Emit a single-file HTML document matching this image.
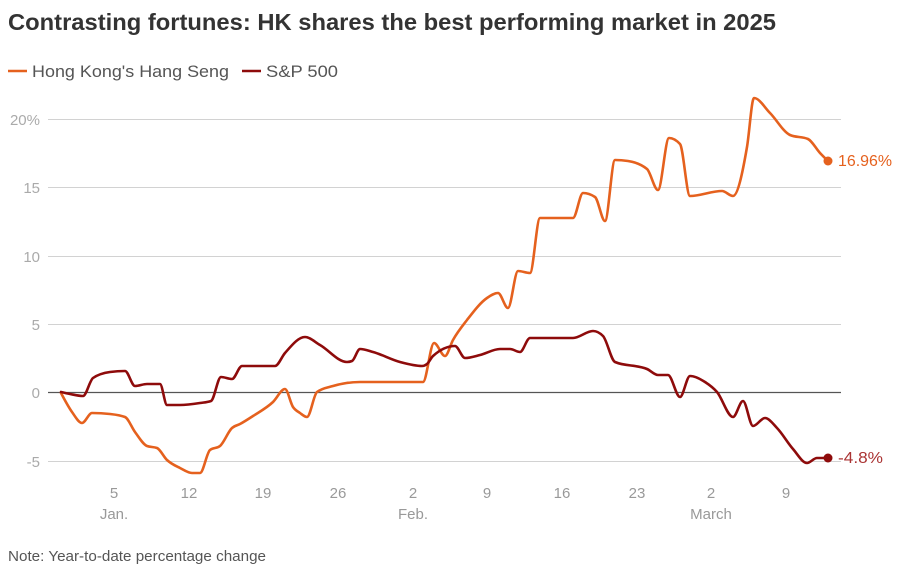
<!DOCTYPE html>
<html><head><meta charset="utf-8"><style>
html,body{margin:0;padding:0;background:#fff;}
svg{display:block;font-family:"Liberation Sans",sans-serif;}
</style></head><body>
<svg width="901" height="570" viewBox="0 0 901 570" xmlns="http://www.w3.org/2000/svg">
<rect width="901" height="570" fill="#fff"/>
<text x="8" y="30" font-size="23" font-weight="bold" fill="#333" textLength="768" lengthAdjust="spacingAndGlyphs">Contrasting fortunes: HK shares the best performing market in 2025</text>
<line x1="8" y1="71" x2="27" y2="71" stroke="#e5611e" stroke-width="2.5"/>
<text x="32" y="77" font-size="17" fill="#555" textLength="197" lengthAdjust="spacingAndGlyphs">Hong Kong's Hang Seng</text>
<line x1="242" y1="71" x2="261" y2="71" stroke="#8e0b0b" stroke-width="2.5"/>
<text x="266" y="77" font-size="17" fill="#555" textLength="72" lengthAdjust="spacingAndGlyphs">S&amp;P 500</text>
<g stroke="#d2d2d2" stroke-width="1">
<line x1="48" y1="119.5" x2="841" y2="119.5"/>
<line x1="48" y1="187.5" x2="841" y2="187.5"/>
<line x1="48" y1="256.5" x2="841" y2="256.5"/>
<line x1="48" y1="324.5" x2="841" y2="324.5"/>
<line x1="48" y1="461.5" x2="841" y2="461.5"/>
</g>
<line x1="48" y1="392.5" x2="841" y2="392.5" stroke="#555" stroke-width="1.2"/>
<g font-size="15" fill="#aaa" text-anchor="end">
<text x="40" y="125">20%</text>
<text x="40" y="193">15</text>
<text x="40" y="262">10</text>
<text x="40" y="330">5</text>
<text x="40" y="398">0</text>
<text x="40" y="467">-5</text>
</g>
<g font-size="15" fill="#999" text-anchor="middle">
<text x="114" y="498">5</text>
<text x="189" y="498">12</text>
<text x="263" y="498">19</text>
<text x="338" y="498">26</text>
<text x="413" y="498">2</text>
<text x="487" y="498">9</text>
<text x="562" y="498">16</text>
<text x="637" y="498">23</text>
<text x="711" y="498">2</text>
<text x="786" y="498">9</text>
<text x="114" y="519">Jan.</text>
<text x="413" y="519">Feb.</text>
<text x="711" y="519">March</text>
</g>
<polyline class="sm" fill="none" stroke="#e5611e" stroke-width="2.6" stroke-linejoin="round" stroke-linecap="round" points="61,393 72,412 82,423 92,413 110,414 125,417 135,432 147,446 157,448 167,460 180,468 192,473 200,473 210,450 220,446 232,428 240,424 253,416 273,402 285,389 293,407 300,413 307,417 317,392 333,386 360,382 423,382 434,343 445,356 453,340 467,320 487,298 498,293 508,308 518,271 530,273 540,218 573,218 583,193 595,197 605,221 615,160 628,161 647,169 658,190 669,138 680,144 690,196 722,191 733,196 747,147 754,98 770,113 790,135 808,139 820,153 828,161"/>
<polyline class="sm" fill="none" stroke="#8e0b0b" stroke-width="2.6" stroke-linejoin="round" stroke-linecap="round" points="61,392 70,394 83,396 93,378 110,372 125,371 135,386 147,384 160,384 167,405 180,405 200,403 211,401 221,377 232,379 242,366 275,366 285,353 305,337 320,345 347,362 352,361 360,349 373,352 400,362 422,366 427,364 433,356 455,346 465,358 480,355 500,349 510,349 520,352 530,338 573,338 593,331 603,336 615,362 647,369 658,375 668,375 680,397 690,376 705,382 717,392 733,417 743,401 753,426 765,418 777,428 793,449 807,463 817,458 828,458"/>
<circle cx="828" cy="161" r="4.5" fill="#e5611e"/>
<circle cx="828" cy="458" r="4.5" fill="#8e0b0b"/>
<text x="838" y="166" font-size="15.5" fill="#e5611e" textLength="54" lengthAdjust="spacingAndGlyphs">16.96%</text>
<text x="838" y="463" font-size="15.5" fill="#a33" textLength="45" lengthAdjust="spacingAndGlyphs">-4.8%</text>
<text x="8" y="561" font-size="15" fill="#555" textLength="258" lengthAdjust="spacingAndGlyphs">Note: Year-to-date percentage change</text>
</svg>
<script>
(function(){
  var NS="http://www.w3.org/2000/svg";
  function sign(v){return v<0?-1:1;}
  var pls=document.querySelectorAll("polyline.sm");
  for(var k=0;k<pls.length;k++){
    var pl=pls[k];
    var pts=pl.getAttribute("points").trim().split(/\s+/).map(function(s){var a=s.split(",");return [+a[0],+a[1]];});
    var n=pts.length, t=new Array(n);
    for(var i=1;i<n-1;i++){
      var h0=pts[i][0]-pts[i-1][0], h1=pts[i+1][0]-pts[i][0];
      var s0=(pts[i][1]-pts[i-1][1])/h0, s1=(pts[i+1][1]-pts[i][1])/h1;
      var p=(s0*h1+s1*h0)/(h0+h1);
      t[i]=(sign(s0)+sign(s1))*Math.min(Math.abs(s0),Math.abs(s1),0.5*Math.abs(p))||0;
    }
    var hA=pts[1][0]-pts[0][0];
    t[0]=(3*(pts[1][1]-pts[0][1])/hA - t[1])/2;
    var hB=pts[n-1][0]-pts[n-2][0];
    t[n-1]=(3*(pts[n-1][1]-pts[n-2][1])/hB - t[n-2])/2;
    var d="M"+pts[0][0]+","+pts[0][1];
    for(var j=0;j<n-1;j++){
      var dx=(pts[j+1][0]-pts[j][0])/3;
      d+="C"+(pts[j][0]+dx)+","+(pts[j][1]+dx*t[j])+","+(pts[j+1][0]-dx)+","+(pts[j+1][1]-dx*t[j+1])+","+pts[j+1][0]+","+pts[j+1][1];
    }
    var path=document.createElementNS(NS,"path");
    path.setAttribute("d",d);
    ["fill","stroke","stroke-width","stroke-linejoin","stroke-linecap"].forEach(function(a){path.setAttribute(a,pl.getAttribute(a));});
    pl.parentNode.replaceChild(path,pl);
  }
})();
</script>
</body></html>
